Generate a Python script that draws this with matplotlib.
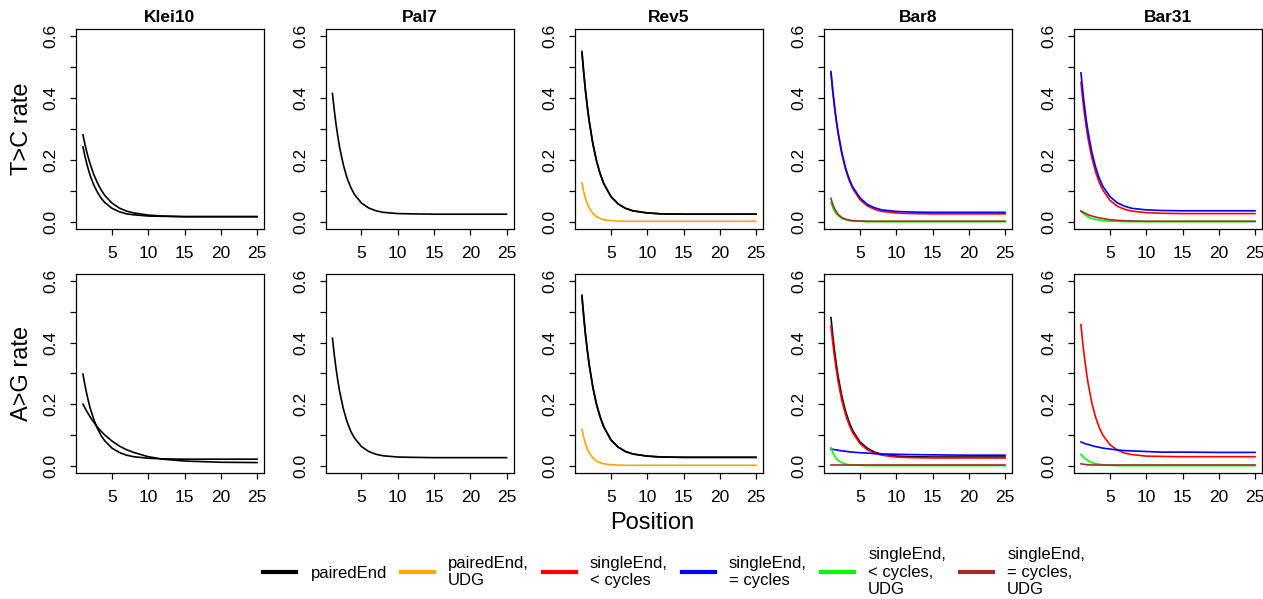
import numpy as np
import matplotlib
matplotlib.use('Agg')
import matplotlib.pyplot as plt
from matplotlib.lines import Line2D
from matplotlib.ticker import FixedLocator, FixedFormatter

plt.rcParams['font.family'] = ['Liberation Sans', 'DejaVu Sans']

# Posições ao longo da leitura
positions = [1, 1.25, 1.5, 1.75, 2, 2.5, 3, 3.5, 4, 5, 6, 7, 8, 10, 12, 15, 20, 25]

samples = ['Klei10', 'Pal7', 'Rev5', 'Bar8', 'Bar31']
rows = ['T>C rate', 'A>G rate']

legend_labels = ['pairedEnd', 'pairedEnd,\nUDG', 'singleEnd,\n< cycles',
                 'singleEnd,\n= cycles', 'singleEnd,\n< cycles,\nUDG',
                 'singleEnd,\n= cycles,\nUDG']
legend_colors = ['black', '#FFA500', 'red', 'blue', '#00FF00', '#A52A2A']

# T>C
klei10_tc_1 = [0.281, 0.253, 0.228, 0.206, 0.186, 0.152, 0.125, 0.103, 0.085, 0.060, 0.044, 0.034, 0.028, 0.021, 0.018, 0.016, 0.016, 0.016]
klei10_tc_2 = [0.242, 0.214, 0.190, 0.168, 0.149, 0.118, 0.095, 0.076, 0.062, 0.043, 0.032, 0.025, 0.022, 0.018, 0.017, 0.016, 0.016, 0.016]
pal7_tc = [0.415, 0.361, 0.314, 0.274, 0.239, 0.184, 0.142, 0.112, 0.089, 0.060, 0.044, 0.035, 0.030, 0.026, 0.025, 0.024, 0.024, 0.024]
rev5_tc_1 = [0.551, 0.483, 0.423, 0.372, 0.327, 0.254, 0.198, 0.156, 0.124, 0.081, 0.057, 0.043, 0.035, 0.028, 0.025, 0.024, 0.024, 0.024]
rev5_tc_2 = [0.545, 0.478, 0.418, 0.368, 0.323, 0.251, 0.196, 0.155, 0.123, 0.081, 0.057, 0.043, 0.035, 0.028, 0.025, 0.024, 0.024, 0.024]
rev5_tc_udg = [0.125, 0.096, 0.074, 0.057, 0.044, 0.027, 0.016, 0.010, 0.006, 0.003, 0.002, 0.001, 0.001, 0.001, 0.001, 0.001, 0.001, 0.001]
bar8_tc_less = [0.480, 0.419, 0.367, 0.322, 0.282, 0.218, 0.170, 0.134, 0.107, 0.071, 0.051, 0.040, 0.033, 0.028, 0.026, 0.025, 0.025, 0.025]
bar8_tc_eq = [0.486, 0.425, 0.373, 0.327, 0.288, 0.224, 0.175, 0.139, 0.112, 0.077, 0.056, 0.045, 0.038, 0.033, 0.031, 0.030, 0.030, 0.030]
bar8_tc_less_udg = [0.062, 0.046, 0.034, 0.025, 0.019, 0.010, 0.006, 0.003, 0.002, 0.001, 0.0, 0.0, 0.0, 0.0, 0.0, 0.0, 0.0, 0.0]
bar8_tc_eq_udg = [0.075, 0.056, 0.042, 0.031, 0.023, 0.013, 0.008, 0.005, 0.003, 0.002, 0.001, 0.001, 0.001, 0.001, 0.001, 0.001, 0.001, 0.001]
bar31_tc_less = [0.451, 0.394, 0.346, 0.303, 0.266, 0.207, 0.162, 0.128, 0.103, 0.069, 0.050, 0.040, 0.034, 0.029, 0.027, 0.026, 0.026, 0.026]
bar31_tc_eq = [0.482, 0.423, 0.371, 0.326, 0.288, 0.225, 0.178, 0.142, 0.115, 0.081, 0.061, 0.050, 0.043, 0.038, 0.036, 0.035, 0.035, 0.035]
bar31_tc_less_udg = [0.034, 0.028, 0.023, 0.019, 0.015, 0.010, 0.007, 0.005, 0.003, 0.001, 0.001, 0.0, 0.0, 0.0, 0.0, 0.0, 0.0, 0.0]
bar31_tc_eq_udg = [0.034, 0.031, 0.028, 0.025, 0.022, 0.018, 0.015, 0.012, 0.010, 0.006, 0.004, 0.003, 0.002, 0.001, 0.001, 0.001, 0.001, 0.001]

# A>G
klei10_ag_1 = [0.298, 0.265, 0.236, 0.210, 0.187, 0.150, 0.121, 0.098, 0.081, 0.057, 0.043, 0.034, 0.029, 0.024, 0.022, 0.021, 0.021, 0.021]
klei10_ag_2 = [0.200, 0.189, 0.178, 0.168, 0.158, 0.141, 0.125, 0.112, 0.100, 0.080, 0.064, 0.052, 0.043, 0.029, 0.021, 0.015, 0.011, 0.010]
pal7_ag = [0.415, 0.361, 0.315, 0.275, 0.240, 0.185, 0.144, 0.113, 0.091, 0.062, 0.046, 0.037, 0.032, 0.028, 0.027, 0.026, 0.026, 0.026]
rev5_ag_1 = [0.555, 0.487, 0.426, 0.375, 0.330, 0.257, 0.201, 0.160, 0.127, 0.084, 0.060, 0.046, 0.038, 0.031, 0.028, 0.027, 0.027, 0.027]
rev5_ag_2 = [0.548, 0.481, 0.421, 0.371, 0.326, 0.254, 0.199, 0.158, 0.126, 0.083, 0.060, 0.046, 0.038, 0.031, 0.028, 0.027, 0.027, 0.027]
rev5_ag_udg = [0.118, 0.091, 0.070, 0.054, 0.042, 0.025, 0.015, 0.009, 0.006, 0.003, 0.002, 0.001, 0.001, 0.001, 0.001, 0.001, 0.001, 0.001]
bar8_ag_paired = [0.482, 0.423, 0.372, 0.328, 0.289, 0.226, 0.178, 0.142, 0.114, 0.077, 0.057, 0.044, 0.037, 0.031, 0.029, 0.028, 0.028, 0.028]
bar8_ag_less = [0.455, 0.400, 0.351, 0.309, 0.272, 0.212, 0.167, 0.133, 0.107, 0.072, 0.052, 0.041, 0.034, 0.028, 0.026, 0.025, 0.025, 0.025]
bar8_ag_eq = [0.054, 0.053, 0.052, 0.051, 0.050, 0.048, 0.047, 0.045, 0.044, 0.042, 0.041, 0.039, 0.038, 0.037, 0.036, 0.035, 0.034, 0.034]
bar8_ag_less_udg = [0.058, 0.043, 0.032, 0.023, 0.017, 0.010, 0.005, 0.003, 0.002, 0.001, 0.0, 0.0, 0.0, 0.0, 0.0, 0.0, 0.0, 0.0]
bar8_ag_eq_udg = [0.002, 0.002, 0.002, 0.002, 0.002, 0.002, 0.002, 0.002, 0.002, 0.002, 0.002, 0.002, 0.002, 0.002, 0.002, 0.002, 0.002, 0.002]
bar31_ag_less = [0.459, 0.399, 0.348, 0.304, 0.266, 0.204, 0.159, 0.125, 0.100, 0.068, 0.051, 0.041, 0.036, 0.031, 0.030, 0.029, 0.029, 0.029]
bar31_ag_eq = [0.077, 0.075, 0.072, 0.070, 0.069, 0.065, 0.062, 0.060, 0.057, 0.054, 0.051, 0.049, 0.048, 0.046, 0.044, 0.044, 0.043, 0.043]
bar31_ag_less_udg = [0.037, 0.030, 0.024, 0.020, 0.016, 0.010, 0.006, 0.005, 0.002, 0.001, 0.0, 0.0, 0.0, 0.0, 0.0, 0.0, 0.0, 0.0]
bar31_ag_eq_udg = [0.006, 0.005, 0.004, 0.003, 0.003, 0.002, 0.002, 0.002, 0.002, 0.002, 0.002, 0.002, 0.002, 0.002, 0.002, 0.002, 0.002, 0.002]

# (série, índice da cor) por painel
panels = [
    [[(klei10_tc_1, 0), (klei10_tc_2, 0)],
     [(pal7_tc, 0)],
     [(rev5_tc_1, 0), (rev5_tc_2, 0), (rev5_tc_udg, 1)],
     [(bar8_tc_less, 2), (bar8_tc_eq, 3), (bar8_tc_less_udg, 4), (bar8_tc_eq_udg, 5)],
     [(bar31_tc_less, 2), (bar31_tc_eq, 3), (bar31_tc_less_udg, 4), (bar31_tc_eq_udg, 5)]],
    [[(klei10_ag_1, 0), (klei10_ag_2, 0)],
     [(pal7_ag, 0)],
     [(rev5_ag_1, 0), (rev5_ag_2, 0), (rev5_ag_udg, 1)],
     [(bar8_ag_paired, 0), (bar8_ag_less, 2), (bar8_ag_eq, 3), (bar8_ag_less_udg, 4), (bar8_ag_eq_udg, 5)],
     [(bar31_ag_less, 2), (bar31_ag_eq, 3), (bar31_ag_less_udg, 4), (bar31_ag_eq_udg, 5)]],
]

W, H = 1263, 599
fig = plt.figure(figsize=(W / 100, H / 100), dpi=100)

col_left = [76, 325.5, 575, 824, 1074]
row_box = [(29, 229), (274, 473)]
box_w = 188

for r in range(2):
    top, bottom = row_box[r]
    for c in range(5):
        ax = fig.add_axes([col_left[c] / W, 1 - bottom / H, box_w / W, (bottom - top) / H])
        for serie, ci in panels[r][c]:
            ax.plot(positions, serie, color=legend_colors[ci], lw=1.2)
        ax.set_xlim(0.04, 25.96)
        ax.set_ylim(-0.024, 0.624)
        ax.set_xticks([5, 10, 15, 20, 25])
        ax.yaxis.set_major_locator(FixedLocator([0, 0.1, 0.2, 0.3, 0.4, 0.5, 0.6]))
        ax.yaxis.set_major_formatter(FixedFormatter(['0.0', '', '0.2', '', '0.4', '', '0.6']))
        ax.tick_params(direction='out', length=4.5, width=0.9, labelsize=12.5, pad=8)
        for lab in ax.get_yticklabels():
            lab.set_rotation(90)
            lab.set_va('center')
        for s in ax.spines.values():
            s.set_linewidth(0.9)
        if r == 0:
            ax.set_title(samples[c], fontsize=12.5, fontweight='bold', pad=5)
        if c == 0:
            ax.set_ylabel(rows[r], fontsize=17)
            ax.yaxis.set_label_coords(-0.23, 0.5)

fig.text(652 / W, 1 - 523 / H, 'Position', fontsize=17, ha='center', va='center')

handles = [Line2D([], [], color=col, lw=3) for col in legend_colors]
fig.legend(handles, legend_labels, loc='center', bbox_to_anchor=(674 / W, 1 - 572 / H),
           ncol=6, frameon=False, fontsize=12, handlelength=2.0,
           handletextpad=0.85, columnspacing=0.82)

fig.savefig('out.png', dpi=100)
